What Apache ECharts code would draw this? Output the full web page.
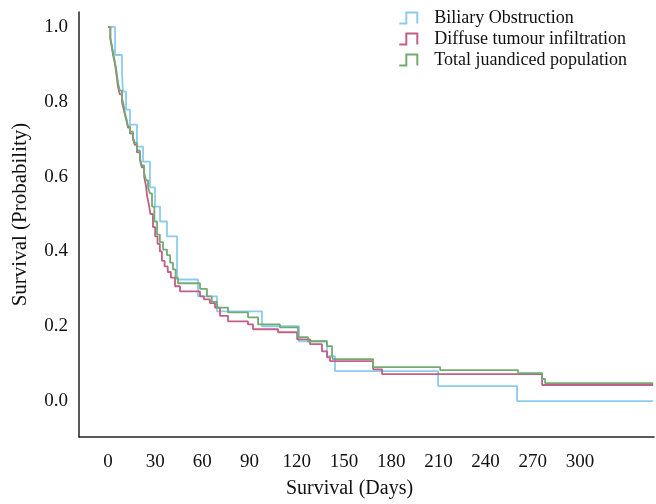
<!DOCTYPE html>
<html>
<head>
<meta charset="utf-8">
<script src="https://cdn.jsdelivr.net/npm/echarts@6/dist/echarts.min.js"></script>
<style>html,body{margin:0;padding:0;background:#fff}#c{width:656px;height:504px}</style>
</head>
<body>
<div id="c"></div>
<script>
var seriesNames = ['Biliary Obstruction', 'Diffuse tumour infiltration', 'Total juandiced population'];
var xTicks = [0, 30, 60, 90, 120, 150, 180, 210, 240, 270, 300];
var yTicks = [0, 0.2, 0.4, 0.6, 0.8, 1.0];

var biliaryDays = [0, 4.5, 8.9, 9.5, 11.5, 14, 18.4, 22.3, 26.7, 29.9, 33.1, 37.5, 43.9, 57.2, 69.3, 97.9, 121.4, 139.2, 144.3, 209.8, 260, 346.5];
var biliarySurv = [1.0, 0.925, 0.877, 0.827, 0.779, 0.739, 0.68, 0.64, 0.571, 0.52, 0.48, 0.44, 0.325, 0.28, 0.24, 0.20, 0.16, 0.12, 0.08, 0.04, 0.0, 0.0];

var diffuseDays = [0, 1.5, 2.5, 3.5, 4.5, 5.5, 6.4, 7.5, 8.9, 10, 10.8, 12, 12.7, 14, 15.9, 17, 18.4, 20.3, 21.5, 23, 24.2, 24.8, 26, 27, 28.6, 30, 31.5, 33, 34.3, 36, 38, 40, 42.6, 45.8, 58.5, 61, 64.8, 68, 71.2, 76.3, 89, 92.2, 108.1, 120.2, 128.4, 136, 139.2, 141.1, 168.5, 174.2, 275.9, 346.5];
var diffuseSurv = [1.0, 0.97, 0.944, 0.92, 0.9, 0.87, 0.84, 0.82, 0.8, 0.78, 0.765, 0.745, 0.731, 0.715, 0.7, 0.685, 0.665, 0.645, 0.625, 0.6, 0.575, 0.55, 0.525, 0.5, 0.465, 0.44, 0.42, 0.4, 0.375, 0.36, 0.345, 0.33, 0.307, 0.293, 0.28, 0.272, 0.262, 0.25, 0.228, 0.213, 0.205, 0.192, 0.184, 0.165, 0.152, 0.133, 0.117, 0.107, 0.085, 0.072, 0.043, 0.043];

var totalDays = [0, 1.5, 2.5, 3.5, 4.5, 5.5, 6.4, 7.5, 8.9, 10, 10.8, 12, 12.7, 14, 15.9, 17, 18.4, 20.3, 21.5, 23, 24.2, 25.5, 26.7, 28, 29.5, 31.2, 33, 35, 37.5, 39.5, 41.3, 43, 44.5, 58.5, 62.9, 66, 69.3, 76.3, 89, 95.4, 109.3, 120.8, 127.1, 139.2, 142.4, 143, 168.5, 211.1, 260.6, 275.9, 277.8, 346.5];
var totalSurv = [1.0, 0.97, 0.95, 0.925, 0.905, 0.88, 0.85, 0.83, 0.81, 0.79, 0.77, 0.75, 0.735, 0.72, 0.705, 0.69, 0.67, 0.65, 0.63, 0.61, 0.59, 0.57, 0.555, 0.52, 0.48, 0.445, 0.425, 0.405, 0.39, 0.37, 0.352, 0.33, 0.315, 0.3, 0.28, 0.265, 0.25, 0.237, 0.224, 0.205, 0.197, 0.171, 0.16, 0.147, 0.12, 0.112, 0.091, 0.083, 0.075, 0.059, 0.048, 0.048];

var colors = ['#8ccbf0', '#c25f85', '#73ab73'];

function pairs(xs, ys) { return xs.map(function (x, i) { return [x, ys[i]]; }); }

// step-shaped legend glyph, traced out and back so the closing segment overlaps itself
var stepIcon = 'path://M0,12 L7,12 L7,1 L18,1 L18,12 L18,1 L7,1 L7,12 Z';
var font = '"Liberation Serif", "Times New Roman", serif';

var chart = echarts.init(document.getElementById('c'), null, { renderer: 'canvas' });
chart.setOption({
  animation: false,
  backgroundColor: '#fff',
  grid: { left: 79, right: 2, top: 12, bottom: 66, containLabel: false },
  legend: {
    right: 24, top: 4, orient: 'vertical', itemGap: 3, itemWidth: 18, itemHeight: 12,
    textStyle: { fontFamily: font, fontSize: 18, color: '#111', padding: [0, 0, 0, 12] },
    data: seriesNames.map(function (n, i) {
      return { name: n, icon: stepIcon,
        itemStyle: { color: 'rgba(0,0,0,0)', borderColor: colors[i], borderWidth: 2 } };
    })
  },
  xAxis: {
    type: 'value', min: -18.4, max: 347,
    name: 'Survival (Days)', nameLocation: 'middle', nameGap: 42,
    nameTextStyle: { fontFamily: font, fontSize: 20, color: '#111', padding: [0, 34, 0, 0] },
    axisLine: { show: true, onZero: false, lineStyle: { color: '#222', width: 1.5 } },
    axisTick: { show: false },
    splitLine: { show: false },
    axisLabel: { customValues: xTicks, margin: 16, fontFamily: font, fontSize: 19, color: '#111' }
  },
  yAxis: {
    type: 'value', min: -0.096, max: 1.04,
    name: 'Survival (Probability)', nameLocation: 'middle', nameGap: 48, nameRotate: 90,
    nameTextStyle: { fontFamily: font, fontSize: 21, color: '#111', padding: [0, 0, 0, 20] },
    axisLine: { show: true, onZero: false, lineStyle: { color: '#222', width: 1.5 } },
    axisTick: { show: false },
    splitLine: { show: false },
    axisLabel: { customValues: yTicks, margin: 11, fontFamily: font, fontSize: 19, color: '#111',
      formatter: function (v) { return v.toFixed(1); } }
  },
  series: [
    { name: seriesNames[0], type: 'line', step: 'end', showSymbol: false, symbol: 'none',
      data: pairs(biliaryDays, biliarySurv), lineStyle: { width: 1.8, color: colors[0] }, itemStyle: { color: colors[0] }, z: 2 },
    { name: seriesNames[1], type: 'line', step: 'end', showSymbol: false, symbol: 'none',
      data: pairs(diffuseDays, diffuseSurv), lineStyle: { width: 1.8, color: colors[1] }, itemStyle: { color: colors[1] }, z: 3 },
    { name: seriesNames[2], type: 'line', step: 'end', showSymbol: false, symbol: 'none',
      data: pairs(totalDays, totalSurv), lineStyle: { width: 1.8, color: colors[2] }, itemStyle: { color: colors[2] }, z: 4 }
  ]
});
</script>
</body>
</html>
